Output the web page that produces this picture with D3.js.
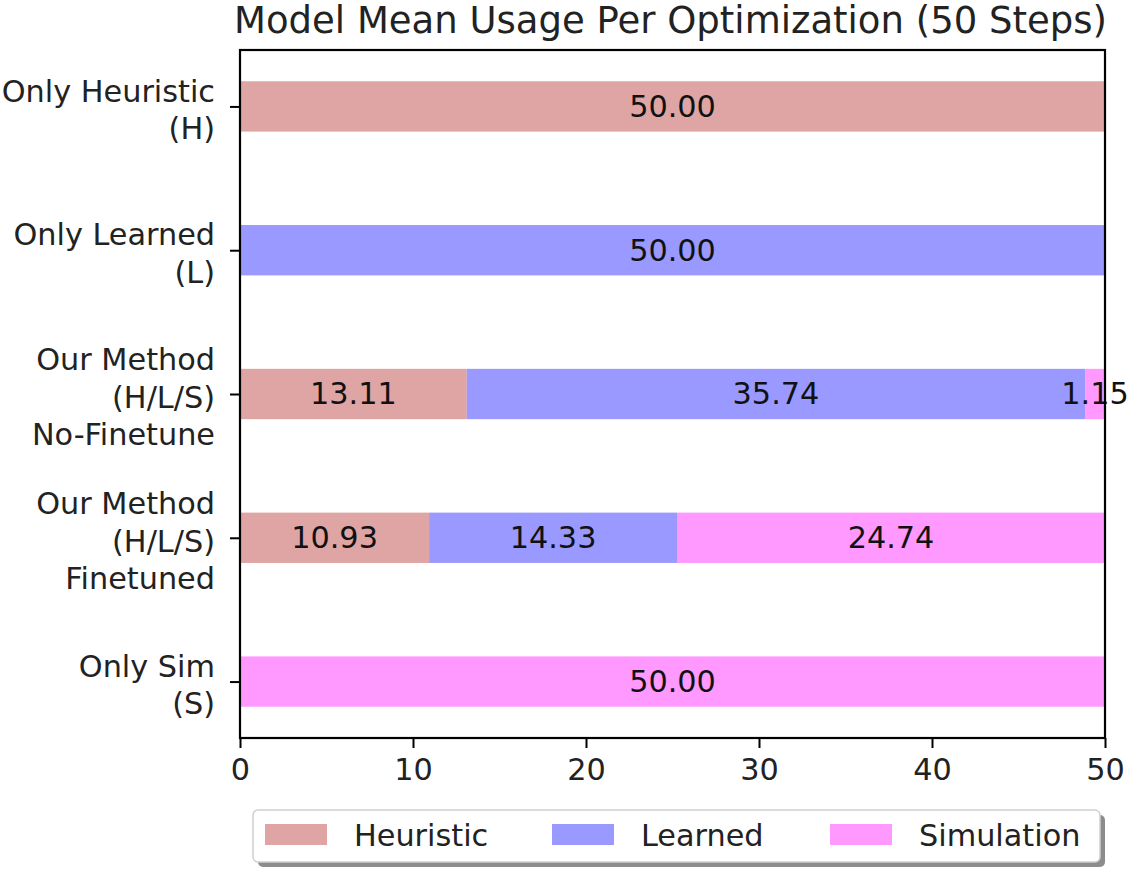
<!DOCTYPE html>
<html>
<head>
<meta charset="utf-8">
<script src="https://cdn.jsdelivr.net/npm/d3@7"></script>
<style>
  html, body { margin: 0; padding: 0; background: #fff; }
  svg { display: block; font-family: "DejaVu Sans", sans-serif; }
</style>
</head>
<body>
<svg id="chart" width="1129" height="875"></svg>
<script>
// ---- data ----
const categories = [
  "Only Heuristic\n(H)",
  "Only Learned\n(L)",
  "Our Method\n(H/L/S)\nNo-Finetune",
  "Our Method\n(H/L/S)\nFinetuned",
  "Only Sim\n(S)"
];
const seriesNames = ["Heuristic", "Learned", "Simulation"];
const heuristicValues = [50.00, 0, 13.11, 10.93, 0];
const learnedValues   = [0, 50.00, 35.74, 14.33, 0];
const simulationValues = [0, 0, 1.15, 24.74, 50.00];
const xTicks = [0, 10, 20, 30, 40, 50];
const titleText = "Model Mean Usage Per Optimization (50 Steps)";

const colors = ["#dfa4a4", "#9999ff", "#ff99ff"];

// ---- layout ----
const svg = d3.select("#chart");
const mLeft = 240, mRight = 1105, mTop = 50, mBottom = 738;
const fs = 30.3;

const x = d3.scaleLinear().domain([0, 50]).range([mLeft, mRight]);
const barH = 0.35;
const pad = 0.05 * (categories.length - 1 + barH);
const y = d3.scaleLinear()
  .domain([-barH / 2 - pad, categories.length - 1 + barH / 2 + pad])
  .range([mTop, mBottom]);

const seriesValues = [heuristicValues, learnedValues, simulationValues];
const rows = categories.map((c, i) => {
  const o = { idx: i };
  seriesNames.forEach((s, k) => o[s] = seriesValues[k][i]);
  return o;
});
const stack = d3.stack().keys(seriesNames)(rows);

// bars
const g = svg.append("g");
stack.forEach((layer, k) => {
  g.selectAll(null).data(layer).enter().append("rect")
    .attr("x", d => x(d[0]))
    .attr("width", d => Math.max(0, x(d[1]) - x(d[0])))
    .attr("y", (d, i) => y(i - barH / 2))
    .attr("height", y(barH) - y(0))
    .attr("fill", colors[k]);
});

// bar labels
stack.forEach((layer, k) => {
  g.selectAll(null).data(layer.filter(d => d[1] - d[0] > 0)).enter().append("text")
    .attr("x", d => x((d[0] + d[1]) / 2))
    .attr("y", d => y(d.data.idx))
    .attr("dy", "0.34em")
    .attr("text-anchor", "middle")
    .attr("font-size", fs)
    .attr("fill", "#111")
    .text(d => (d[1] - d[0]).toFixed(2));
});

// x axis
const xAxis = d3.axisBottom(x).tickValues(xTicks).tickSize(10).tickPadding(10).tickFormat(d3.format("d"));
const gx = svg.append("g").attr("transform", `translate(0,${mBottom})`).call(xAxis);
gx.select(".domain").remove();
gx.selectAll("line").attr("stroke", "#000").attr("stroke-width", 2);
gx.selectAll("text").attr("font-size", fs).attr("fill", "#222").attr("font-family", "DejaVu Sans");

// y axis ticks
const yAxis = d3.axisLeft(y).tickValues(d3.range(categories.length)).tickSize(10).tickFormat("");
const gy = svg.append("g").attr("transform", `translate(${mLeft},0)`).call(yAxis);
gy.select(".domain").remove();
gy.selectAll("line").attr("stroke", "#000").attr("stroke-width", 2);

// y labels (multi-line)
const lineH = 37.5;
categories.forEach((c, i) => {
  const lines = c.split("\n");
  const t = svg.append("text")
    .attr("text-anchor", "end")
    .attr("font-size", fs)
    .attr("fill", "#222");
  const y0 = y(i) - (lines.length - 1) * lineH / 2 + 3;
  lines.forEach((ln, j) => {
    t.append("tspan").attr("x", 215).attr("y", y0 + j * lineH).attr("dy", "0.36em").text(ln);
  });
});

// spines
svg.append("rect")
  .attr("x", mLeft).attr("y", mTop)
  .attr("width", mRight - mLeft).attr("height", mBottom - mTop)
  .attr("fill", "none").attr("stroke", "#000").attr("stroke-width", 2.2);

// title
svg.append("text")
  .attr("x", (mLeft + mRight) / 2 - 2).attr("y", 33)
  .attr("text-anchor", "middle")
  .attr("font-size", 37)
  .attr("fill", "#222")
  .text(titleText);

// legend
const lx = 253, ly = 810, lw = 847, lh = 52;
svg.append("rect").attr("x", lx + 5).attr("y", ly + 5).attr("width", lw).attr("height", lh)
  .attr("rx", 5).attr("fill", "#8c8c8c");
svg.append("rect").attr("x", lx).attr("y", ly).attr("width", lw).attr("height", lh)
  .attr("rx", 5).attr("fill", "#fff").attr("stroke", "#d0d0d0").attr("stroke-width", 1.5);
const legendX = [265, 552, 830];
seriesNames.forEach((s, k) => {
  svg.append("rect").attr("x", legendX[k]).attr("y", ly + 14).attr("width", 62).attr("height", 21)
    .attr("fill", colors[k]);
  svg.append("text").attr("x", legendX[k] + 89).attr("y", ly + 25).attr("dy", "0.36em")
    .attr("font-size", fs).attr("fill", "#222").text(s);
});
</script>
</body>
</html>
